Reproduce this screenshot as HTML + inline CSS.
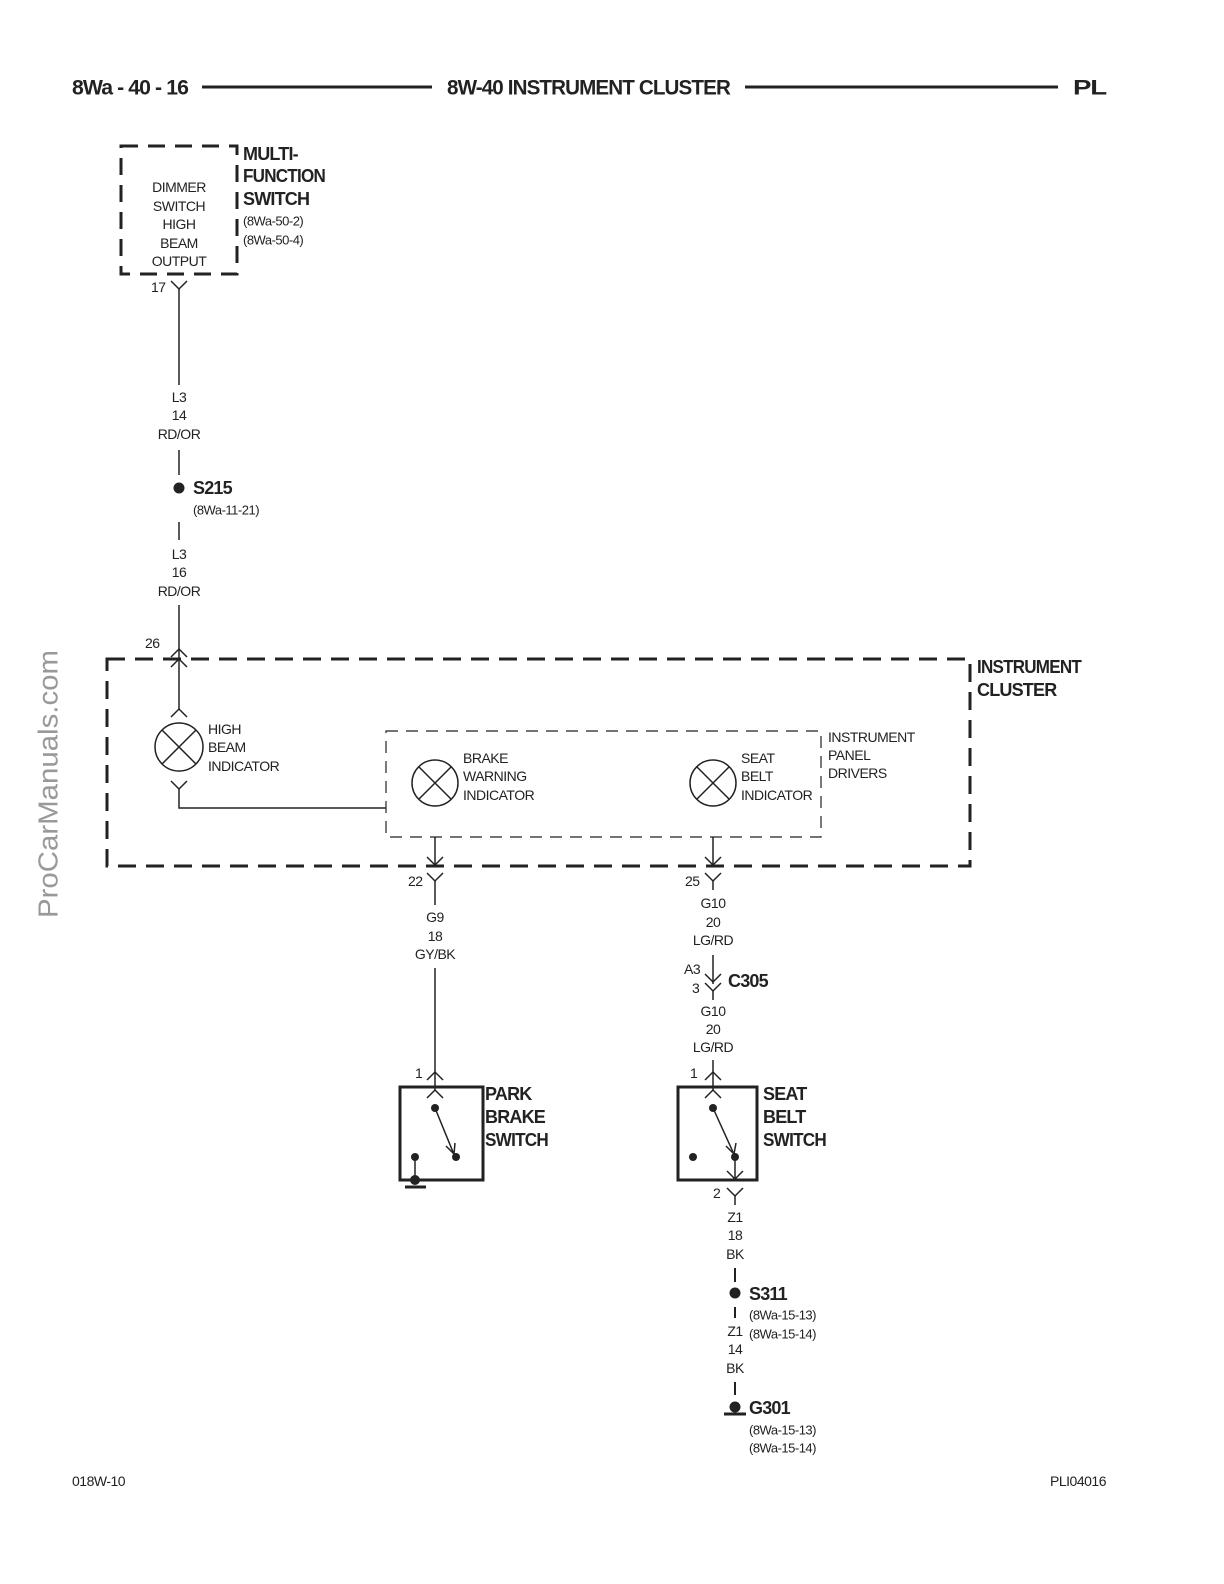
<!DOCTYPE html>
<html><head><meta charset="utf-8"><style>
html,body{margin:0;padding:0;background:#fff;overflow:hidden;width:1224px;height:1584px;}
svg{display:block;}
text{font-family:"Liberation Sans",sans-serif;fill:#222;dominant-baseline:central;}
.s{font-size:14px;letter-spacing:-0.5px;}
.r{font-size:13px;letter-spacing:-0.5px;}
.b{font-size:18px;font-weight:bold;letter-spacing:-0.8px;}
.h{font-size:21px;font-weight:bold;letter-spacing:-0.9px;}
</style></head><body>
<svg width="1224" height="1584" viewBox="0 0 1224 1584" xmlns="http://www.w3.org/2000/svg">
<g stroke="#222" fill="none">
<line x1="202" y1="87" x2="432" y2="87" stroke-width="3"/>
<line x1="745" y1="87" x2="1058" y2="87" stroke-width="3"/>
<rect x="121" y="146" width="116" height="128" stroke-width="3" stroke-dasharray="17,10"/>
<polyline points="171,281 179,289 187,281" stroke-width="1.5"/>
<line x1="179" y1="289" x2="179" y2="385" stroke-width="1.5"/>
<line x1="179" y1="450" x2="179" y2="475" stroke-width="1.5"/>
<line x1="179" y1="522" x2="179" y2="540" stroke-width="1.5"/>
<line x1="179" y1="605" x2="179" y2="710" stroke-width="1.5"/>
<polyline points="171,657 179,649 187,657" stroke-width="1.5"/>
<polyline points="171,667 179,659 187,667" stroke-width="1.5"/>
<rect x="107" y="659" width="863" height="207" stroke-width="3" stroke-dasharray="18,10"/>
<polyline points="171,717 179,709 187,717" stroke-width="1.5"/>
<circle cx="179" cy="747" r="24" stroke-width="1.5"/>
<line x1="162" y1="730" x2="196" y2="764" stroke-width="1.5"/>
<line x1="196" y1="730" x2="162" y2="764" stroke-width="1.5"/>
<polyline points="171,781 179,789 187,781" stroke-width="1.5"/>
<polyline points="179,789 179,808 386,808" stroke-width="1.5"/>
<rect x="386" y="731" width="435" height="106" stroke-width="1.2" stroke-dasharray="12,8"/>
<circle cx="435" cy="783" r="23" stroke-width="1.5"/>
<line x1="419" y1="767" x2="451" y2="799" stroke-width="1.5"/>
<line x1="451" y1="767" x2="419" y2="799" stroke-width="1.5"/>
<circle cx="713" cy="783" r="23" stroke-width="1.5"/>
<line x1="697" y1="767" x2="729" y2="799" stroke-width="1.5"/>
<line x1="729" y1="767" x2="697" y2="799" stroke-width="1.5"/>
<line x1="435" y1="837" x2="435" y2="866" stroke-width="1.5"/>
<polyline points="427,857 435,865 443,857" stroke-width="1.5"/>
<polyline points="427,873 435,881 443,873" stroke-width="1.5"/>
<line x1="435" y1="881" x2="435" y2="905" stroke-width="1.5"/>
<line x1="435" y1="968" x2="435" y2="1090" stroke-width="1.5"/>
<polyline points="427,1080 435,1072 443,1080" stroke-width="1.5"/>
<rect x="400" y="1087" width="83" height="93" stroke-width="3"/>
<polyline points="427,1098 435,1090 443,1098" stroke-width="1.5"/>
<line x1="435" y1="1108" x2="453" y2="1152" stroke-width="1.5"/>
<polyline points="446,1146 454,1154 455,1143" stroke-width="1.5"/>
<line x1="415" y1="1157" x2="415" y2="1180" stroke-width="1.5"/>
<line x1="405" y1="1187" x2="426" y2="1187" stroke-width="3"/>
<line x1="713" y1="837" x2="713" y2="866" stroke-width="1.5"/>
<polyline points="705,857 713,865 721,857" stroke-width="1.5"/>
<polyline points="705,873 713,881 721,873" stroke-width="1.5"/>
<line x1="713" y1="881" x2="713" y2="890" stroke-width="1.5"/>
<line x1="713" y1="955" x2="713" y2="984" stroke-width="1.5"/>
<polyline points="705,974 713,982 721,974" stroke-width="1.5"/>
<polyline points="705,983 713,991 721,983" stroke-width="1.5"/>
<line x1="713" y1="991" x2="713" y2="1000" stroke-width="1.5"/>
<line x1="713" y1="1060" x2="713" y2="1090" stroke-width="1.5"/>
<polyline points="705,1080 713,1072 721,1080" stroke-width="1.5"/>
<rect x="678" y="1087" width="79" height="93" stroke-width="3"/>
<polyline points="705,1098 713,1090 721,1098" stroke-width="1.5"/>
<line x1="713" y1="1108" x2="733" y2="1152" stroke-width="1.5"/>
<polyline points="726,1146 734,1154 736,1143" stroke-width="1.5"/>
<line x1="735" y1="1157" x2="735" y2="1180" stroke-width="1.5"/>
<polyline points="727,1171 735,1179 743,1171" stroke-width="1.5"/>
<polyline points="727,1188 735,1196 743,1188" stroke-width="1.5"/>
<line x1="735" y1="1196" x2="735" y2="1205" stroke-width="1.5"/>
<line x1="735" y1="1268" x2="735" y2="1282" stroke-width="2"/>
<line x1="735" y1="1307" x2="735" y2="1318" stroke-width="2"/>
<line x1="735" y1="1382" x2="735" y2="1395" stroke-width="2"/>
<line x1="724" y1="1414" x2="746" y2="1414" stroke-width="3"/>
</g>
<g fill="#222">
<circle cx="179" cy="488" r="5.5"/>
<circle cx="435" cy="1108" r="4"/><circle cx="456" cy="1157" r="4"/><circle cx="415" cy="1157" r="4"/><circle cx="415" cy="1180" r="5"/>
<circle cx="713" cy="1108" r="4"/><circle cx="735" cy="1157" r="4"/><circle cx="693" cy="1157" r="4"/>
<circle cx="735" cy="1293" r="5.5"/>
<circle cx="735" cy="1407" r="5.5"/>
</g>
<text class="h" x="72" y="88" textLength="116" lengthAdjust="spacingAndGlyphs">8Wa - 40 - 16</text>
<text class="h" x="447" y="88" textLength="283" lengthAdjust="spacingAndGlyphs">8W-40 INSTRUMENT CLUSTER</text>
<text class="h" x="1073" y="88" textLength="33" lengthAdjust="spacingAndGlyphs">PL</text>

<g class="s" text-anchor="middle">
<text x="179" y="187">DIMMER</text><text x="179" y="206">SWITCH</text><text x="179" y="224">HIGH</text><text x="179" y="243">BEAM</text><text x="179" y="261">OUTPUT</text>
<text x="179" y="397">L3</text><text x="179" y="415">14</text><text x="179" y="434">RD/OR</text>
<text x="179" y="554">L3</text><text x="179" y="572">16</text><text x="179" y="591">RD/OR</text>
<text x="435" y="917">G9</text><text x="435" y="936">18</text><text x="435" y="954">GY/BK</text>
<text x="713" y="903">G10</text><text x="713" y="922">20</text><text x="713" y="940">LG/RD</text>
<text x="713" y="1011">G10</text><text x="713" y="1029">20</text><text x="713" y="1047">LG/RD</text>
<text x="735" y="1217">Z1</text><text x="735" y="1235">18</text><text x="735" y="1254">BK</text>
<text x="735" y="1331">Z1</text><text x="735" y="1349">14</text><text x="735" y="1368">BK</text>
</g>
<g class="s">
<text x="151" y="287">17</text>
<text x="145" y="643">26</text>
<text x="408" y="881">22</text>
<text x="685" y="881">25</text>
<text x="684" y="969">A3</text><text x="692" y="988">3</text>
<text x="415" y="1073">1</text><text x="690" y="1073">1</text>
<text x="713" y="1193">2</text>
<text x="208" y="729">HIGH</text><text x="208" y="747">BEAM</text><text x="208" y="766">INDICATOR</text>
<text x="463" y="758">BRAKE</text><text x="463" y="776">WARNING</text><text x="463" y="795">INDICATOR</text>
<text x="741" y="758">SEAT</text><text x="741" y="776">BELT</text><text x="741" y="795">INDICATOR</text>
<text x="828" y="737">INSTRUMENT</text><text x="828" y="755">PANEL</text><text x="828" y="773">DRIVERS</text>
<text x="72" y="1481">018W-10</text>
<text x="1106" y="1481" text-anchor="end">PLI04016</text>
</g>
<g class="r">
<text x="243" y="221">(8Wa-50-2)</text><text x="243" y="240">(8Wa-50-4)</text>
<text x="193" y="510">(8Wa-11-21)</text>
<text x="749" y="1315">(8Wa-15-13)</text><text x="749" y="1334">(8Wa-15-14)</text>
<text x="749" y="1430">(8Wa-15-13)</text><text x="749" y="1448">(8Wa-15-14)</text>
</g>
<g class="b">
<text x="243" y="154">MULTI-</text><text x="243" y="176" textLength="82" lengthAdjust="spacingAndGlyphs">FUNCTION</text><text x="243" y="199">SWITCH</text>
<text x="193" y="488">S215</text>
<text x="977" y="667" textLength="104" lengthAdjust="spacingAndGlyphs">INSTRUMENT</text><text x="977" y="690">CLUSTER</text>
<text x="728" y="981">C305</text>
<text x="485" y="1094">PARK</text><text x="485" y="1117">BRAKE</text><text x="485" y="1140" textLength="63" lengthAdjust="spacingAndGlyphs">SWITCH</text>
<text x="763" y="1094">SEAT</text><text x="763" y="1117">BELT</text><text x="763" y="1140" textLength="63" lengthAdjust="spacingAndGlyphs">SWITCH</text>
<text x="749" y="1294">S311</text>
<text x="749" y="1408">G301</text>
</g>
<text x="0" y="0" transform="translate(48,918) rotate(-90)" style="font-size:28px;fill:#999;" textLength="268" lengthAdjust="spacingAndGlyphs">ProCarManuals.com</text>
</svg>
</body></html>
